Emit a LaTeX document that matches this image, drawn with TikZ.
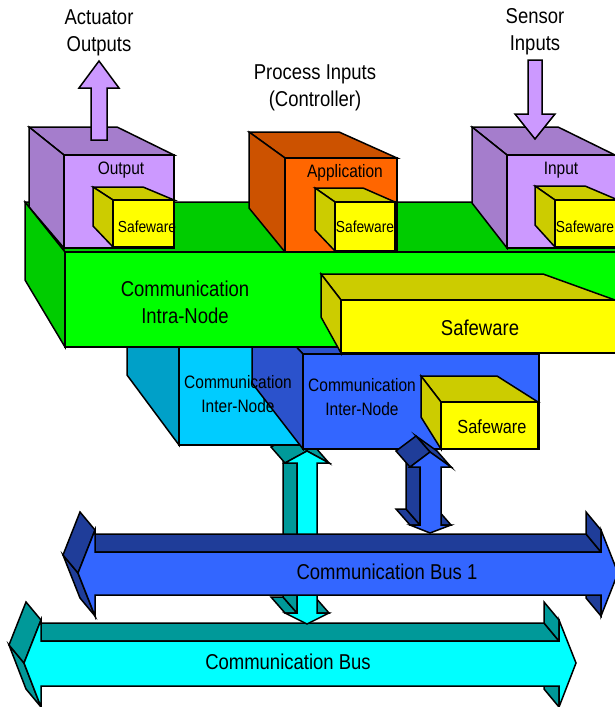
\documentclass[tikz,border=0pt]{standalone}
\usepackage{fontspec}
\setmainfont{Liberation Sans}[FakeStretch=0.86]
\usetikzlibrary{calc}
\definecolor{lavFront}{RGB}{204,153,255}
\definecolor{lavSide}{RGB}{165,125,204}
\definecolor{orFront}{RGB}{255,102,0}
\definecolor{orSide}{RGB}{204,82,0}
\definecolor{grFront}{RGB}{0,255,0}
\definecolor{grSide}{RGB}{0,204,0}
\definecolor{ywFront}{RGB}{255,255,0}
\definecolor{ywSide}{RGB}{204,204,0}
\definecolor{skyFront}{RGB}{0,204,255}
\definecolor{skySide}{RGB}{0,160,200}
\definecolor{blFront}{RGB}{51,102,255}
\definecolor{blSide}{RGB}{43,82,204}
\definecolor{blDeep}{RGB}{31,61,153}
\definecolor{cyFront}{RGB}{0,255,255}
\definecolor{cySide}{RGB}{0,153,153}
\tikzset{
    facet/.style={draw=black, line width=1.5pt},
    lavfront/.style={facet, fill=lavFront}, lavside/.style={facet, fill=lavSide},
    orfront/.style={facet, fill=orFront},   orside/.style={facet, fill=orSide},
    grfront/.style={facet, fill=grFront},   grside/.style={facet, fill=grSide},
    ywfront/.style={facet, fill=ywFront},   ywside/.style={facet, fill=ywSide},
    skyfront/.style={facet, fill=skyFront}, skyside/.style={facet, fill=skySide},
    blfront/.style={facet, fill=blFront},   blside/.style={facet, fill=blSide},
    bldeep/.style={facet, fill=blDeep},
    cyfront/.style={facet, fill=cyFront},   cyside/.style={facet, fill=cySide},
    lbl/.style={align=center, inner sep=0pt, text=black},
    biglbl/.style={lbl, font=\fontsize{21.5}{27}\selectfont},
    boxlbl/.style={lbl, font=\fontsize{18}{24}\selectfont},
    midlbl/.style={lbl, font=\fontsize{19}{22}\selectfont},
    smalllbl/.style={lbl, font=\fontsize{16}{18}\selectfont}
}
% extruded outline: depth shift x, y; side style; face style; x/y points (first one repeated)
\newcommand{\solidarrow}[5]{%
  \foreach \x/\y [count=\i, remember=\x as \xo, remember=\y as \yo] in {#5}{%
    \ifnum\i>1
      \pgfmathparse{(\y-\yo)/100*(#1)-(\x-\xo)/100*(#2)}%
      \ifdim\pgfmathresult pt>0pt
        \filldraw[#3] (\xo,\yo) -- (\x,\y) -- ({\x+(#1)},{\y+(#2)}) -- ({\xo+(#1)},{\yo+(#2)}) -- cycle;
      \fi
    \fi}
  \gdef\arrowoutline{}%
  \foreach \x/\y [count=\i] in {#5}{%
    \ifnum\i=1 \xdef\arrowoutline{(\x,\y)}\else \xdef\arrowoutline{\arrowoutline -- (\x,\y)}\fi}
  \edef\arrowface{\noexpand\filldraw[#4] \arrowoutline -- cycle;}%
  \arrowface
}
\begin{document}
\begin{tikzpicture}[x=1pt,y=-1pt]
  \clip (0,0) rectangle (615,707);
  % Buses and links
  \solidarrow{-15}{-18}{cyside}{cyfront}{41/641, 559/641, 559/620, 576/663, 559/707, 559/686, 41/686, 41/707, 24/663, 41/620, 41/641}
  \solidarrow{-14}{-16}{cyside}{cyfront}{307/451, 329/463, 317/463, 317/613, 329/613, 307/624, 285/613, 297/613, 297/463, 285/463, 307/451}
  \solidarrow{-15}{-18}{bldeep}{blfront}{95/552, 601/552, 601/530, 618/573, 601/616, 601/595, 95/595, 95/616, 78/573, 95/530, 95/552}

  % Inter-node units
  \filldraw[skyside] (127,340) -- (179,340) -- (179,445) -- (127,375) -- cycle;
  \filldraw[skyfront] (179,340) rectangle (303,445);
  \filldraw[blside] (252,300) -- (560,300) -- (539,354) -- (303,354) -- cycle;
  \filldraw[blside] (252,300) -- (303,354) -- (303,449) -- (252,383) -- cycle;
  \filldraw[blfront] (303,354) rectangle (539,449);
  \filldraw[ywside] (421,376) -- (497,376) -- (538,402) -- (441,402) -- cycle;
  \filldraw[ywside] (421,376) -- (441,402) -- (441,449) -- (421,417) -- cycle;
  \filldraw[ywfront] (441,402) rectangle (538,449);
  \solidarrow{-14}{-16}{bldeep}{blfront}{430/452, 451/467, 441/467, 441/525, 451/525, 430/533, 410/525, 420/525, 420/467, 410/467, 430/452}

  % Intra-node block, top
  \filldraw[grside] (25,202) -- (620,202) -- (620,252) -- (65,252) -- cycle;

  % Output unit
  \filldraw[lavside] (29,127) -- (117,127) -- (174,155) -- (64,155) -- cycle;
  \filldraw[lavside] (29,127) -- (64,155) -- (64,248) -- (29,207) -- cycle;
  \filldraw[lavfront] (64,155) rectangle (174,248);
  \filldraw[ywside] (93,187) -- (143,187) -- (174,200) -- (113,200) -- cycle;
  \filldraw[ywside] (93,187) -- (113,200) -- (113,247) -- (93,226) -- cycle;
  \filldraw[ywfront] (113,200) rectangle (174,247);

  % Application unit
  \filldraw[orside] (249,132) -- (339,132) -- (397,158) -- (285,158) -- cycle;
  \filldraw[orside] (249,132) -- (285,158) -- (285,252) -- (249,208) -- cycle;
  \filldraw[orfront] (285,158) rectangle (397,252);
  \filldraw[ywside] (315,188) -- (363,188) -- (395,202) -- (335,202) -- cycle;
  \filldraw[ywside] (315,188) -- (335,202) -- (335,251) -- (315,230) -- cycle;
  \filldraw[ywfront] (335,202) rectangle (395,251);

  % Input unit
  \filldraw[lavside] (472,127) -- (558,127) -- (615,155) -- (507,155) -- cycle;
  \filldraw[lavside] (472,127) -- (507,155) -- (507,248) -- (472,203) -- cycle;
  \filldraw[lavfront] (507,155) rectangle (620,248);
  \filldraw[ywside] (535,186) -- (585,186) -- (618,200) -- (555,200) -- cycle;
  \filldraw[ywside] (535,186) -- (555,200) -- (555,247) -- (535,225) -- cycle;
  \filldraw[ywfront] (555,200) rectangle (620,247);

  % Intra-node block, left and front
  \filldraw[grside] (25,202) -- (65,252) -- (65,347) -- (25,280) -- cycle;
  \filldraw[grfront] (65,252) rectangle (620,347);
  \filldraw[ywside] (321,274) -- (543,274) -- (615,300) -- (341,300) -- cycle;
  \filldraw[ywside] (321,274) -- (341,300) -- (341,353) -- (321,317) -- cycle;
  \filldraw[ywfront] (341,300) rectangle (620,353);

  % Actuator and sensor arrows
  \filldraw[lavfront] (91,140) -- (91,88) -- (79,88) -- (99,61) -- (119,88) -- (107,88) -- (107,140) -- cycle;
  \filldraw[lavfront] (528,60) -- (528,114) -- (515,114) -- (535,139) -- (555,114) -- (542,114) -- (542,60) -- cycle;

  % Labels
  \node[biglbl] (actuator) at (99,33) {Actuator\\Outputs};
  \node[biglbl] (process) at (315,88) {Process Inputs\\(Controller)};
  \node[biglbl] (sensor) at (535,32) {Sensor\\Inputs};
  \node[boxlbl] (outlbl) at (121,170) {Output};
  \node[boxlbl] (applbl) at (345,173) {Application};
  \node[boxlbl] (inlbl) at (561,170) {Input};
  \node[smalllbl] (swout) at (147,227) {Safeware};
  \node[smalllbl] (swapp) at (365,227) {Safeware};
  \node[smalllbl] (swin) at (585,227) {Safeware};
  \node[biglbl] (intra) at (185,302) {Communication\\Intra-Node};
  \node[biglbl] (swintra) at (480,328) {Safeware};
  \node[boxlbl] (interA) at (238,394) {Communication\\Inter-Node};
  \node[boxlbl] (interB) at (362,397) {Communication\\Inter-Node};
  \node[midlbl] (swinter) at (492,427) {Safeware};
  \node[biglbl] (busone) at (387,572) {Communication Bus 1};
  \node[biglbl] (buszero) at (288,662) {Communication Bus};
\end{tikzpicture}
\end{document}
